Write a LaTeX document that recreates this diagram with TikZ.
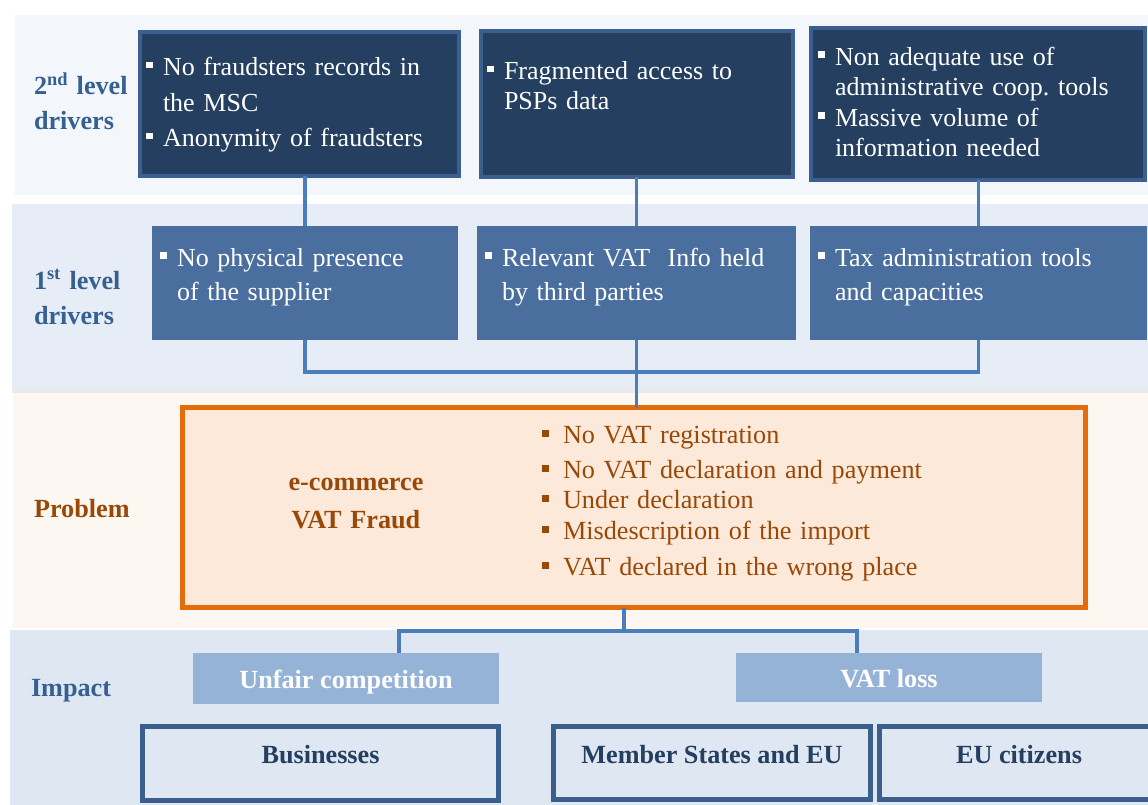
\documentclass[tikz,border=0pt]{standalone}
\usepackage{fontspec}
\setmainfont{Liberation Serif}
\frenchspacing
\definecolor{bandA}{HTML}{F3F6FB}
\definecolor{bandB}{HTML}{E6EDF6}
\definecolor{bandS}{HTML}{E9EAEF}
\definecolor{bandC}{HTML}{FDF7F2}
\definecolor{bandD}{HTML}{DFE7F2}
\definecolor{navy}{HTML}{243F60}
\definecolor{navyedge}{HTML}{3B6090}
\definecolor{midblue}{HTML}{4A6F9E}
\definecolor{connblue}{HTML}{4A7EBB}
\definecolor{lblblue}{HTML}{366092}
\definecolor{brown}{HTML}{984807}
\definecolor{orange}{HTML}{E46C0A}
\definecolor{peach}{HTML}{FDE9D9}
\definecolor{lightblue}{HTML}{95B3D7}
\definecolor{boxedge}{HTML}{3A5F8B}
\definecolor{darktext}{HTML}{243F60}
\newcommand{\bul}{\leavevmode\llap{\rule[7.5pt]{6.5pt}{6.5pt}\hspace{10.5pt}}}
\newcommand{\pbul}{\leavevmode\llap{\rule[6pt]{7pt}{7pt}\hspace{14pt}}}
\begin{document}
\begin{tikzpicture}[x=1pt,y=-1pt,
  every node/.style={inner sep=0pt, outer sep=0pt},
  navybox/.style={draw=navyedge, line width=4pt, fill=navy},
  midbox/.style={fill=midblue},
  probbox/.style={draw=orange, line width=5pt, fill=peach},
  impbox/.style={fill=lightblue, text=white, font=\fontsize{26.2}{30}\selectfont\bfseries, text height=19pt, text depth=0pt},
  whobox/.style={draw=boxedge, line width=5pt, fill=bandD, text=darktext, font=\fontsize{26.2}{30}\selectfont\bfseries, text height=8pt, text depth=8pt},
  wtxt/.style={text=white, anchor=base west, align=left, text width=#1},
  conn/.style={draw=connblue, line width=3.2pt},
  lbl/.style={anchor=base west, align=left, text width=140pt, font=\fontsize{26.2}{35}\selectfont\bfseries}
]
\useasboundingbox (0,0) rectangle (1148,805);
\clip (0,0) rectangle (1148,805);
% bands
\fill[white] (0,0) rectangle (1148,805);
\fill[bandA] (15,15) rectangle (1148,195);
\fill[bandB] (12,204) rectangle (1148,387);
\fill[bandS] (12,387) rectangle (1148,393);
\fill[bandC] (13,393) rectangle (1148,628);
\fill[bandD] (10,630) rectangle (1148,805);

% left labels
\node[lbl, text=lblblue] (l2) at (34,95) {2\textsuperscript{nd} level\\drivers};
\node[lbl, text=lblblue] (l1) at (34,289) {1\textsuperscript{st} level\\drivers};
\node[lbl, text=brown] (lp) at (34,517) {Problem};
\node[lbl, text=lblblue] (li) at (31,696) {Impact};

% 2nd level boxes
\node[navybox, minimum width=319, minimum height=144] (A) at (299.5,104) {};
\node[navybox, minimum width=312, minimum height=146] (B) at (637,104) {};
\node[navybox, minimum width=334, minimum height=152] (C) at (978,104) {};
\node[wtxt=290pt, font=\fontsize{26}{35.5}\selectfont] (tA) at (163,76)
  {\bul No fraudsters records in\\the MSC\\\bul Anonymity of fraudsters};
\node[wtxt=280pt, font=\fontsize{26}{30}\selectfont] (tB) at (504,80)
  {\bul Fragmented access to\\PSPs data};
\node[wtxt=305pt, font=\fontsize{26}{30.3}\selectfont] (tC) at (835,65.5)
  {\bul Non adequate use of\\administrative coop. tools\\\bul Massive volume of\\information needed};

% 1st level boxes
\node[midbox, minimum width=306, minimum height=114] (B1) at (305,283) {};
\node[midbox, minimum width=319, minimum height=114] (B2) at (636.5,283) {};
\node[midbox, minimum width=337, minimum height=114] (B3) at (978.5,283) {};
\node[wtxt=275pt, font=\fontsize{26}{34}\selectfont] (t1) at (177,266)
  {\bul No physical presence\\of the supplier};
\node[wtxt=285pt, font=\fontsize{26}{34}\selectfont] (t2) at (502,266)
  {\bul Relevant VAT\ \ Info held\\by third parties};
\node[wtxt=300pt, font=\fontsize{26}{34}\selectfont] (t3) at (835,266)
  {\bul Tax administration tools\\and capacities};

% problem
\node[probbox, minimum width=903, minimum height=200] (P) at (634,507.5) {};
\node[anchor=base, align=center, text width=220pt, text=brown, font=\fontsize{26.2}{38}\selectfont\bfseries] (pt) at (356,490)
  {e-commerce\\VAT Fraud};
\node[anchor=base west, align=left, text width=400pt, text=brown, font=\fontsize{26.2}{30}\selectfont] (pl) at (563,443)
  {\pbul No VAT registration\\[5pt]\pbul No VAT declaration and payment\\\pbul Under declaration\\[1pt]\pbul Misdescription of the import\\[6pt]\pbul VAT declared in the wrong place};

% impact
\node[impbox, minimum width=306, minimum height=51] (U) at (346,678.5) {Unfair competition};
\node[impbox, minimum width=306, minimum height=49] (V) at (889,677.5) {VAT loss};
\node[whobox, minimum width=356, minimum height=74] (W1) at (320.5,763.5) {Businesses};
\node[whobox, minimum width=317, minimum height=73] (W2) at (712,763) {Member States and EU};
\node[whobox, minimum width=279, minimum height=73] (W3) at (1019,763) {EU citizens};

% connectors
\coordinate (j1) at (0,372);
\coordinate (j2) at (0,631);
\coordinate (pb) at (624,0);
\coordinate (ux) at (399,0);
\coordinate (vx) at (857,0);
\draw[conn] (A.south -| B1.north) -- (B1.north);
\draw[conn] (B.south -| B2.north) -- (B2.north);
\draw[conn] (C.south -| B3.north) -- (B3.north);
\draw[conn] (B1.south) -- (B1.south |- j1) -- (B3.south |- j1) -- (B3.south);
\draw[conn] (B2.south) -- (P.north -| B2.south);
\draw[conn] (P.south -| pb) -- (pb |- j2);
\draw[conn] (U.north -| ux) -- (ux |- j2) -- (vx |- j2) -- (V.north -| vx);
\end{tikzpicture}
\end{document}
